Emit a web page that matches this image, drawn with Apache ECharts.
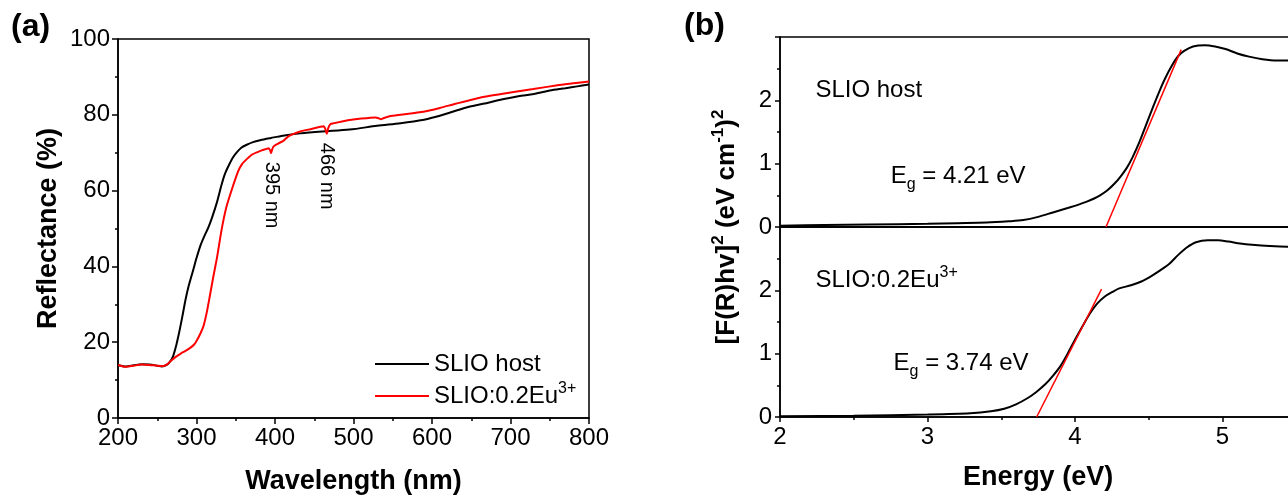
<!DOCTYPE html>
<html>
<head>
<meta charset="utf-8">
<script src="https://cdn.jsdelivr.net/npm/echarts@6/dist/echarts.min.js"></script>
<style>
  html, body { margin: 0; padding: 0; background: #fff; }
  #main { width: 1288px; height: 496px; }
</style>
</head>
<body>
<div id="main"></div>
<script>
// (a) diffuse reflectance, [wavelength nm, R %]
var hostRefl = [
  [200,14.0],[210,13.6],[220,13.9],[230,14.2],[240,14.1],[250,13.8],[256,13.6],[262,14.0],[266,14.8],
  [270,16.2],[274,19.0],[277,21.7],[280,24.7],[283,27.9],[286,31.2],[290,34.8],[296,39.2],[300,42.2],
  [305,45.5],[310,48.0],[315,50.2],[320,53.0],[326,56.9],[332,61.6],[336,64.3],[341,66.6],[346,68.6],
  [351,70.0],[357,71.3],[364,72.1],[372,72.8],[381,73.3],[395,73.9],[410,74.5],[432,75.1],[460,75.6],
  [495,76.1],[530,77.1],[560,77.8],[590,78.7],[600,79.2],[623,80.6],[645,82.0],[665,82.9],[690,84.1],
  [710,84.9],[730,85.5],[750,86.4],[770,87.0],[785,87.5],[800,88.0]
];
var euRefl = [
  [200,14.0],[210,13.5],[220,13.8],[230,14.1],[240,14.0],[250,13.8],[258,13.7],[263,14.2],[268,15.2],
  [274,16.2],[280,17.0],[286,17.7],[292,18.5],[297,19.4],[300,20.3],[305,22.3],[309,24.3],[313,27.8],
  [317,32.2],[321,36.8],[326,42.2],[332,49.7],[338,55.6],[345,60.3],[353,65.1],[358,67.0],[364,68.3],
  [370,69.4],[377,70.1],[383,70.6],[389,71.0],[392,71.2],[394,70.5],[395,69.9],[396,70.6],[398,71.6],
  [404,72.4],[411,73.2],[417,74.3],[423,74.9],[432,75.6],[445,76.2],[455,76.7],[462,77.0],[464,76.3],
  [466,75.0],[468,76.6],[471,77.6],[480,78.0],[495,78.6],[510,79.0],[528,79.3],[532,79.1],[535,78.8],
  [538,79.1],[546,79.6],[560,80.0],[589,80.8],[610,81.8],[630,82.9],[665,84.7],[700,85.9],[729,86.8],
  [760,87.8],[780,88.3],[800,88.8]
];

// (b) Kubelka-Munk plots, [energy eV, [F(R)hv]^2]
var hostKM = [
  [2.0,0.02],[2.3,0.03],[2.6,0.04],[3.0,0.05],[3.2,0.06],[3.4,0.07],[3.55,0.09],[3.65,0.11],[3.75,0.16],
  [3.85,0.23],[3.95,0.30],[4.02,0.35],[4.08,0.40],[4.13,0.45],[4.17,0.50],[4.22,0.58],[4.27,0.69],
  [4.31,0.80],[4.35,0.93],[4.39,1.10],[4.44,1.36],[4.48,1.60],[4.53,1.90],[4.57,2.13],[4.61,2.34],
  [4.66,2.56],[4.70,2.70],[4.74,2.78],[4.80,2.85],[4.88,2.87],[4.95,2.85],[5.02,2.81],[5.10,2.74],
  [5.18,2.69],[5.27,2.65],[5.37,2.63],[5.5,2.63]
];
var euKM = [
  [2.0,0.01],[2.5,0.02],[3.0,0.04],[3.29,0.06],[3.43,0.09],[3.52,0.13],[3.6,0.2],[3.68,0.3],[3.74,0.4],
  [3.8,0.52],[3.85,0.65],[3.9,0.8],[3.95,1.0],[4.0,1.22],[4.05,1.43],[4.1,1.63],[4.15,1.79],[4.2,1.9],
  [4.25,1.97],[4.3,2.03],[4.38,2.08],[4.45,2.14],[4.52,2.23],[4.58,2.32],[4.64,2.42],[4.7,2.56],
  [4.76,2.68],[4.82,2.76],[4.9,2.79],[4.97,2.79],[5.04,2.77],[5.12,2.74],[5.2,2.72],[5.32,2.70],
  [5.44,2.69],[5.5,2.69]
];
// linear fits for the band gap
var hostFit = [[4.21,0],[4.72,2.8]];
var euFit = [[3.74,0],[4.18,2.02]];

var FONT = 'Liberation Sans, Arial, sans-serif';
var supRich = {
  sup: { fontSize: 16, verticalAlign: 'top', fontFamily: FONT, color: '#000' },
  sub: { fontSize: 16, verticalAlign: 'bottom', fontFamily: FONT, color: '#000' }
};
var boldRich = {
  sup: { fontSize: 17, fontWeight: 'bold', verticalAlign: 'top', fontFamily: FONT, color: '#000' }
};

function axisBase(extra) {
  var a = {
    type: 'value',
    axisLine: { show: true, lineStyle: { color: '#000', width: 1.5 } },
    axisTick: { show: true, inside: false, length: 6, lineStyle: { color: '#000', width: 1.5 } },
    minorTick: { show: true, splitNumber: 2, length: 3, lineStyle: { color: '#000', width: 1.5 } },
    axisLabel: { color: '#000', fontSize: 24, fontFamily: FONT, margin: 8 },
    splitLine: { show: false },
    nameTextStyle: { color: '#000', fontSize: 27, fontWeight: 'bold', fontFamily: FONT }
  };
  for (var k in extra) a[k] = extra[k];
  return a;
}
var bLabel = { color: '#000', fontSize: 24, fontFamily: FONT, margin: 8, showMaxLabel: false };
var bTick = { show: true, length: 5, lineStyle: { color: '#000', width: 1.5 } };

var gridBase = { show: true, borderColor: '#000', borderWidth: 1.5, containLabel: false, outerBoundsMode: 'none' };
function grid(l, t, w, h) {
  var g = { left: l, top: t, width: w, height: h };
  for (var k in gridBase) g[k] = gridBase[k];
  return g;
}

// panel (b) runs past the right edge of the figure (cropped in the original)
var option = {
  animation: false,
  backgroundColor: '#fff',
  grid: [
    grid(118, 39, 471, 379),
    grid(780, 37, 531, 190),
    grid(780, 227, 531, 190)
  ],
  xAxis: [
    axisBase({ gridIndex: 0, min: 200, max: 800, interval: 100,
      name: 'Wavelength (nm)', nameLocation: 'middle', nameGap: 50 }),
    axisBase({ gridIndex: 1, min: 2, max: 5.6, interval: 1,
      axisTick: { show: false }, minorTick: { show: false }, axisLabel: { show: false } }),
    axisBase({ gridIndex: 2, min: 2, max: 5.6, interval: 1, axisTick: bTick, axisLabel: bLabel,
      name: 'Energy (eV)', nameLocation: 'start', nameGap: 0,
      nameTextStyle: { color: '#000', fontSize: 27, fontWeight: 'bold', fontFamily: FONT,
        align: 'center', verticalAlign: 'top', padding: [0, 0, 0, 0] } })
  ],
  yAxis: [
    axisBase({ gridIndex: 0, min: 0, max: 100, interval: 20,
      name: 'Reflectance (%)', nameLocation: 'middle', nameGap: 56 }),
    axisBase({ gridIndex: 1, min: 0, max: 3, interval: 1, axisTick: bTick, axisLabel: bLabel }),
    axisBase({ gridIndex: 2, min: 0, max: 3, interval: 1, axisTick: bTick, axisLabel: bLabel })
  ],
  legend: {
    data: ['SLIO host', 'SLIO:0.2Eu3+'],
    orient: 'vertical',
    left: 370,
    top: 344,
    icon: 'rect',
    itemWidth: 54,
    itemHeight: 2,
    itemGap: 2,
    formatter: function (n) { return n === 'SLIO:0.2Eu3+' ? 'SLIO:0.2Eu{sup|3+}' : n; },
    textStyle: { color: '#000', fontSize: 24, fontFamily: FONT, lineHeight: 30, rich: supRich }
  },
  series: [
    { name: 'SLIO host', type: 'line', xAxisIndex: 0, yAxisIndex: 0, data: hostRefl,
      symbol: 'none', smooth: 0.3, lineStyle: { color: '#000', width: 2 }, itemStyle: { color: '#000' } },
    { name: 'SLIO:0.2Eu3+', type: 'line', xAxisIndex: 0, yAxisIndex: 0, data: euRefl,
      symbol: 'none', smooth: 0.2, lineStyle: { color: '#ff0000', width: 2 }, itemStyle: { color: '#ff0000' } },
    { name: 'hostKM', type: 'line', xAxisIndex: 1, yAxisIndex: 1, data: hostKM,
      symbol: 'none', smooth: 0.3, lineStyle: { color: '#000', width: 2 } },
    { name: 'hostFit', type: 'line', xAxisIndex: 1, yAxisIndex: 1, data: hostFit,
      symbol: 'none', lineStyle: { color: '#ff0000', width: 1.5 } },
    { name: 'euKM', type: 'line', xAxisIndex: 2, yAxisIndex: 2, data: euKM,
      symbol: 'none', smooth: 0.3, lineStyle: { color: '#000', width: 2 } },
    { name: 'euFit', type: 'line', xAxisIndex: 2, yAxisIndex: 2, data: euFit,
      symbol: 'none', lineStyle: { color: '#ff0000', width: 1.5 } }
  ]
};
// the x title of (b) sits under the centre of the original 2-5.5 eV span
option.xAxis[2].name = '';

var chart = echarts.init(document.getElementById('main'));
chart.setOption(option);

function px(g, x, y) { return chart.convertToPixel({ gridIndex: g }, [x, y]); }
function txt(p, text, o) {
  o = o || {};
  return {
    type: 'text', x: p[0], y: p[1], rotation: o.rotation || 0, z: 100,
    style: {
      text: text, fill: '#000', font: (o.weight || 'normal') + ' ' + (o.size || 24) + 'px ' + FONT,
      align: o.align || 'left', verticalAlign: o.va || 'middle', lineHeight: o.lh,
      rich: o.rich || supRich
    }
  };
}

var p395 = px(0, 395, 67.6), p466 = px(0, 466, 72.6);
var pEn = px(2, 3.75, 0);
chart.setOption({
  graphic: [
    txt([11, 27], '(a)', { weight: 'bold', size: 32 }),
    txt([684, 26], '(b)', { weight: 'bold', size: 32 }),
    txt(p395, '395 nm', { rotation: -Math.PI / 2, size: 20 }),
    txt(p466, '466 nm', { rotation: -Math.PI / 2, size: 20 }),
    txt(px(1, 2.24, 2.16), 'SLIO host'),
    txt(px(1, 2.75, 0.8), 'E{sub|g} = 4.21 eV', { lh: 32 }),
    txt(px(2, 2.24, 2.16), 'SLIO:0.2Eu{sup|3+}', { lh: 32 }),
    txt(px(2, 2.77, 0.85), 'E{sub|g} = 3.74 eV', { lh: 32 }),
    txt([pEn[0], pEn[1] + 61], 'Energy (eV)', { weight: 'bold', size: 27, align: 'center' }),
    txt([727, 227], '[F(R)hv]{sup|2} (eV cm{sup|-1}){sup|2}',
      { rotation: Math.PI / 2, weight: 'bold', size: 26, align: 'center', lh: 34, rich: boldRich })
  ]
});
</script>
</body>
</html>
